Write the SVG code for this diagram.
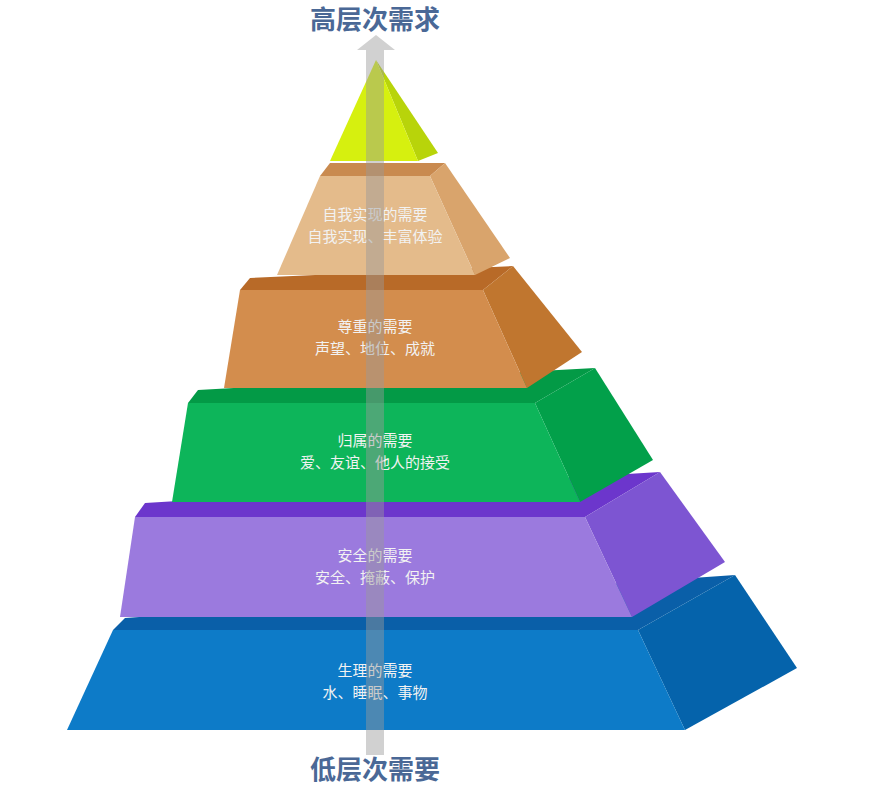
<svg xmlns="http://www.w3.org/2000/svg" width="883" height="788" viewBox="0 0 883 788">
<style>
.lbl{font-family:"Noto Sans CJK SC",serif;font-size:15px;fill:#f2f2f2;text-anchor:middle}
.ttl{font-family:"Noto Sans CJK SC",sans-serif;font-size:26px;font-weight:bold;fill:#4a6896;text-anchor:middle}
</style>
<rect width="883" height="788" fill="#fff"/>
<g id="layer-blue">
<polygon points="113,630 125,618 735,575 638,630" fill="#0a5fa8"/>
<polygon points="638,630 735,575 797,668 685,730" fill="#0563ab"/>
<polygon points="113,630 638,630 685,730 67,730" fill="#0d7bc8"/>
<text class="lbl" x="375" y="676">生理的需要</text><text class="lbl" x="375" y="698">水、睡眠、事物</text>
</g>
<g id="layer-purple">
<polygon points="135,517 145,503 660,472 585,517" fill="#6c36cc"/>
<polygon points="585,517 660,472 725,562 632,617" fill="#7d55d2"/>
<polygon points="135,517 585,517 632,617 120,617" fill="#9b7ade"/>
<text class="lbl" x="375" y="561">安全的需要</text><text class="lbl" x="375" y="583">安全、掩蔽、保护</text>
</g>
<g id="layer-green">
<polygon points="188,403 198,390 595,368 535,403" fill="#039a46"/>
<polygon points="535,403 595,368 653,460 580,502" fill="#02a04a"/>
<polygon points="188,403 535,403 580,502 172,502" fill="#0db55a"/>
<text class="lbl" x="375" y="446">归属的需要</text><text class="lbl" x="375" y="468">爱、友谊、他人的接受</text>
</g>
<g id="layer-orange">
<polygon points="240,290 250,278 513,266 483,290" fill="#b86a28"/>
<polygon points="483,290 513,266 582,352 527,388" fill="#c0762f"/>
<polygon points="240,290 483,290 527,388 224,388" fill="#d38d4d"/>
<text class="lbl" x="375" y="332">尊重的需要</text><text class="lbl" x="375" y="354">声望、地位、成就</text>
</g>
<g id="layer-tan">
<polygon points="320,176 330,163 445,163 430,176" fill="#c98a4f"/>
<polygon points="430,176 445,163 510,258 475,275" fill="#d9a46c"/>
<polygon points="320,176 430,176 475,275 277,275" fill="#e4bb8b"/>
<text class="lbl" x="375" y="220">自我实现的需要</text><text class="lbl" x="375" y="242">自我实现、丰富体验</text>
</g>
<g id="apex">
<polygon points="376,60 418,161 438,153" fill="#b8d40a"/>
<polygon points="376,60 330,161 418,161" fill="#d6f00f"/>
</g>
<g id="connectors">
<path d="M366,755 V50 H357 L376,35 L395,50 H384 V755 Z" fill="#9a9a9a" fill-opacity="0.45"/>
</g>
<g id="titles">
<text class="ttl" x="375" y="29">高层次需求</text>
<text class="ttl" x="375" y="779">低层次需要</text>
</g>
</svg>
